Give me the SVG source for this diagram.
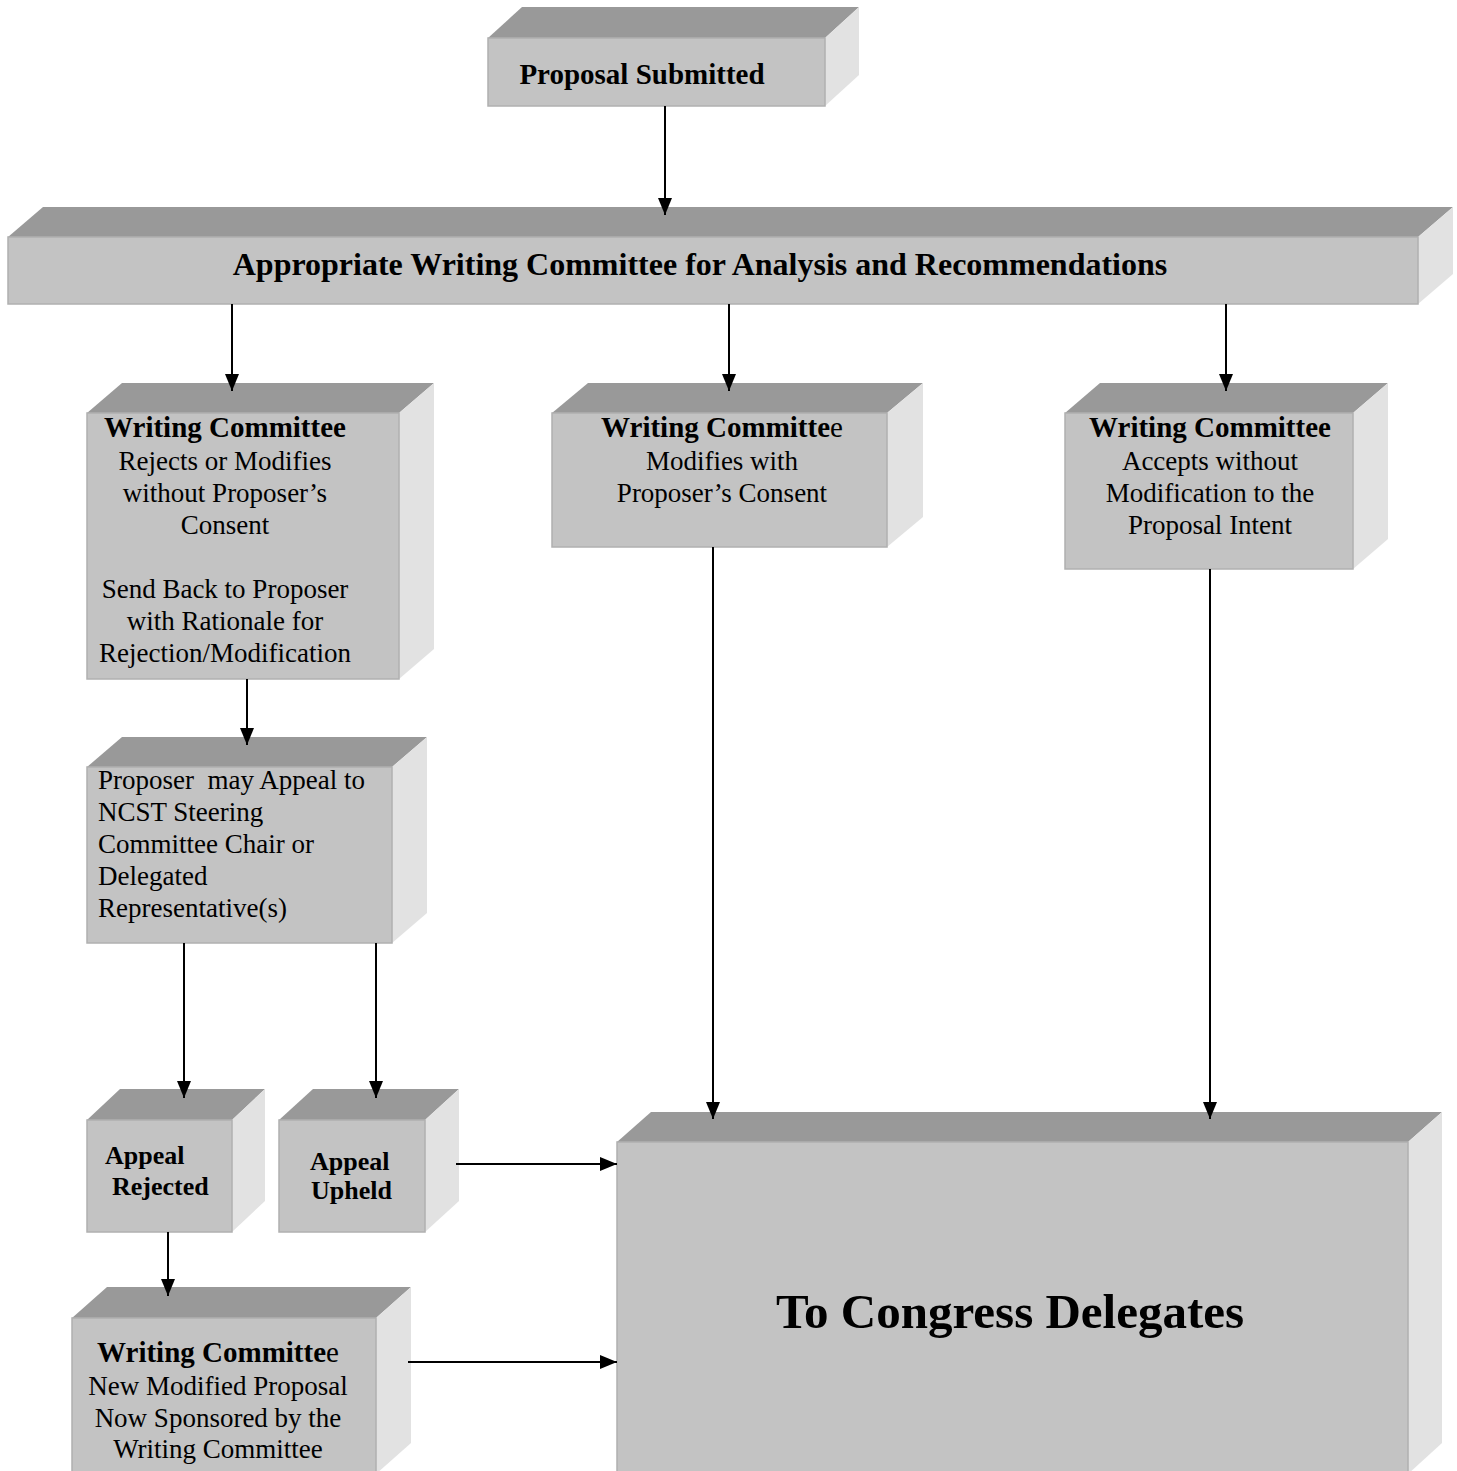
<svg xmlns="http://www.w3.org/2000/svg" width="1457" height="1471" viewBox="0 0 1457 1471">
<style>
.top{fill:#999999}
.front{fill:#c3c3c3;stroke:#b0b0b0;stroke-width:1.5}
.side{fill:#e2e2e2}
text{font-family:"Liberation Serif","Times New Roman",serif;fill:#000}
.b{font-weight:bold}
.n{font-weight:normal}
.c{text-anchor:middle}
.r{font-size:27px}
.h{font-size:29px;font-weight:bold}
.conn line{stroke:#000;stroke-width:2}
</style>
<defs>
<marker id="ah" viewBox="0 0 17 14" refX="17" refY="7" markerWidth="17" markerHeight="14" markerUnits="userSpaceOnUse" orient="auto">
<path d="M0,0 L17,7 L0,14 z" fill="#000"/>
</marker>
</defs>
<rect width="1457" height="1471" fill="#fff"/>

<g id="proposal-submitted">
<polygon class="top" points="488,38 825,38 859,7 522,7"/>
<polygon class="side" points="825,38 859,7 859,75 825,106"/>
<rect class="front" x="488" y="38" width="337" height="68"/>
<text class="b c" x="642" y="84" font-size="29">Proposal Submitted</text>
</g>

<g id="writing-committee-analysis">
<polygon class="top" points="8,237 1418,237 1453,207 43,207"/>
<polygon class="side" points="1418,237 1453,207 1453,274 1418,304"/>
<rect class="front" x="8" y="237" width="1410" height="67"/>
<text class="b c" x="700" y="275" font-size="32">Appropriate Writing Committee for Analysis and Recommendations</text>
</g>

<g id="wc-rejects">
<polygon class="top" points="87,413 399,413 434,383 122,383"/>
<polygon class="side" points="399,413 434,383 434,649 399,679"/>
<rect class="front" x="87" y="413" width="312" height="266"/>
<text class="h c" x="225" y="437">Writing Committee</text>
<text class="r c" x="225" y="470">Rejects or Modifies</text>
<text class="r c" x="225" y="502">without Proposer’s</text>
<text class="r c" x="225" y="534">Consent</text>
<text class="r c" x="225" y="598">Send Back to Proposer</text>
<text class="r c" x="225" y="630">with Rationale for</text>
<text class="r c" x="225" y="662">Rejection/Modification</text>
</g>

<g id="wc-modifies">
<polygon class="top" points="552,413 887,413 923,383 588,383"/>
<polygon class="side" points="887,413 923,383 923,517 887,547"/>
<rect class="front" x="552" y="413" width="335" height="134"/>
<text class="c" x="722" y="437" font-size="29"><tspan class="b">Writing Committe</tspan><tspan class="n">e</tspan></text>
<text class="r c" x="722" y="470">Modifies with</text>
<text class="r c" x="722" y="502">Proposer’s Consent</text>
</g>

<g id="wc-accepts">
<polygon class="top" points="1065,413 1353,413 1388,383 1100,383"/>
<polygon class="side" points="1353,413 1388,383 1388,539 1353,569"/>
<rect class="front" x="1065" y="413" width="288" height="156"/>
<text class="h c" x="1210" y="437">Writing Committee</text>
<text class="r c" x="1210" y="470">Accepts without</text>
<text class="r c" x="1210" y="502">Modification to the</text>
<text class="r c" x="1210" y="534">Proposal Intent</text>
</g>

<g id="proposer-appeal">
<polygon class="top" points="87,767 392,767 427,737 122,737"/>
<polygon class="side" points="392,767 427,737 427,913 392,943"/>
<rect class="front" x="87" y="767" width="305" height="176"/>
<text class="r" x="98" y="789">Proposer&#160; may Appeal to</text>
<text class="r" x="98" y="821">NCST Steering</text>
<text class="r" x="98" y="853">Committee Chair or</text>
<text class="r" x="98" y="885">Delegated</text>
<text class="r" x="98" y="917">Representative(s)</text>
</g>

<g id="appeal-rejected">
<polygon class="top" points="87,1120 232,1120 265,1089 120,1089"/>
<polygon class="side" points="232,1120 265,1089 265,1201 232,1232"/>
<rect class="front" x="87" y="1120" width="145" height="112"/>
<text class="b" x="105" y="1164" font-size="26">Appeal</text>
<text class="b" x="112" y="1195" font-size="26">Rejected</text>
</g>

<g id="appeal-upheld">
<polygon class="top" points="279,1120 425,1120 459,1089 313,1089"/>
<polygon class="side" points="425,1120 459,1089 459,1201 425,1232"/>
<rect class="front" x="279" y="1120" width="146" height="112"/>
<text class="b" x="310" y="1170" font-size="26">Appeal</text>
<text class="b" x="311" y="1199" font-size="26">Upheld</text>
</g>

<g id="wc-new-proposal">
<polygon class="top" points="72,1318 376,1318 411,1287 107,1287"/>
<polygon class="side" points="376,1318 411,1287 411,1443 376,1474"/>
<rect class="front" x="72" y="1318" width="304" height="160"/>
<text class="c" x="218" y="1362" font-size="29"><tspan class="b">Writing Committe</tspan><tspan class="n">e</tspan></text>
<text class="r c" x="218" y="1395">New Modified Proposal</text>
<text class="r c" x="218" y="1427">Now Sponsored by the</text>
<text class="r c" x="218" y="1458">Writing Committee</text>
</g>

<g id="congress-delegates">
<polygon class="top" points="617,1142 1408,1142 1442,1112 651,1112"/>
<polygon class="side" points="1408,1142 1442,1112 1442,1443 1408,1474"/>
<rect class="front" x="617" y="1142" width="791" height="336"/>
<text class="b c" x="1010" y="1328" font-size="49">To Congress Delegates</text>
</g>

<g id="connectors" class="conn">
<line x1="665" y1="106" x2="665" y2="215" marker-end="url(#ah)"/>
<line x1="232" y1="304" x2="232" y2="391" marker-end="url(#ah)"/>
<line x1="729" y1="304" x2="729" y2="391" marker-end="url(#ah)"/>
<line x1="1226" y1="304" x2="1226" y2="391" marker-end="url(#ah)"/>
<line x1="247" y1="679" x2="247" y2="745" marker-end="url(#ah)"/>
<line x1="184" y1="943" x2="184" y2="1098" marker-end="url(#ah)"/>
<line x1="376" y1="943" x2="376" y2="1098" marker-end="url(#ah)"/>
<line x1="168" y1="1232" x2="168" y2="1296" marker-end="url(#ah)"/>
<line x1="713" y1="547" x2="713" y2="1119" marker-end="url(#ah)"/>
<line x1="1210" y1="569" x2="1210" y2="1119" marker-end="url(#ah)"/>
<line x1="456" y1="1164" x2="617" y2="1164" marker-end="url(#ah)"/>
<line x1="408" y1="1362" x2="617" y2="1362" marker-end="url(#ah)"/>
</g>
</svg>
